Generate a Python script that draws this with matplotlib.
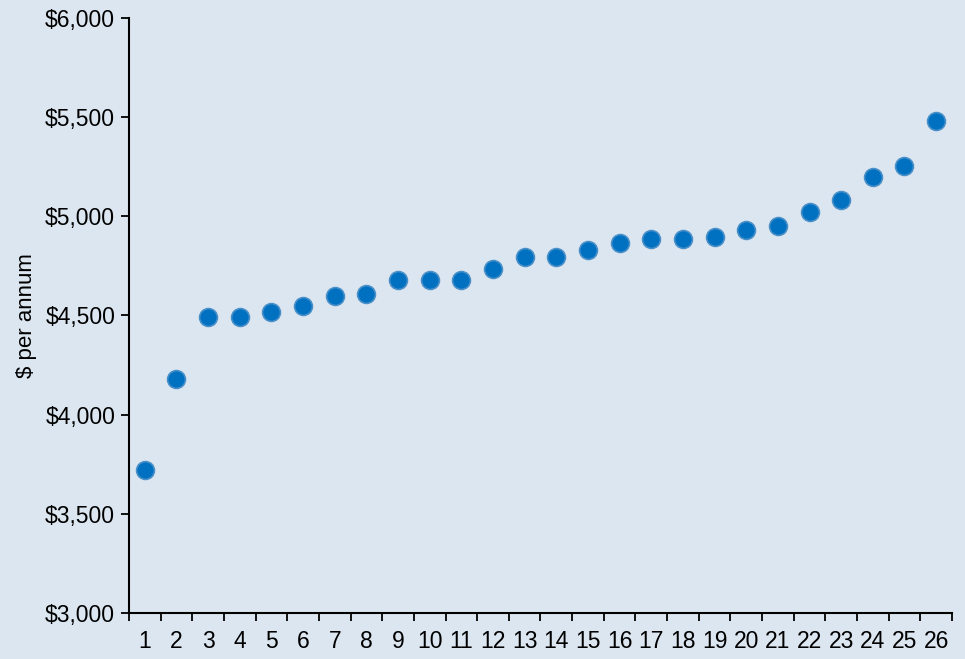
import numpy as np
import matplotlib.pyplot as plt
import matplotlib.ticker as mticker

plt.rcParams['font.family'] = ['Liberation Sans', 'DejaVu Sans']

categories = [str(i) for i in range(1, 27)]
values = [3720, 4180, 4490, 4490, 4520, 4550, 4600, 4610, 4680, 4680,
          4680, 4735, 4795, 4795, 4830, 4865, 4885, 4885, 4895, 4930,
          4950, 5020, 5080, 5200, 5255, 5480]

bg = '#dce6f0'
fig = plt.figure(figsize=(9.65, 6.59), dpi=100, facecolor=bg)
ax = fig.add_axes([0.1337, 0.0698, 0.8528, 0.9029], facecolor=bg)

x = np.arange(1, len(values) + 1)
ax.scatter(x, values, s=165, color='#0070c0', edgecolors='#4a90c8',
           linewidths=1.2, zorder=3, clip_on=False)

ax.set_xlim(0.5, len(values) + 0.5)
ax.set_ylim(3000, 6000)
ax.yaxis.set_major_locator(mticker.MultipleLocator(500))
ax.yaxis.set_major_formatter(mticker.FuncFormatter(lambda v, p: '${:,.0f}'.format(v)))

ax.set_xticks(x)
ax.set_xticklabels(categories)
ax.set_xticks(np.arange(0.5, len(values) + 1), minor=True)
ax.tick_params(axis='x', which='major', length=0, pad=12, labelsize=16.5)
ax.tick_params(axis='x', which='minor', length=6, width=1.3, direction='out')
ax.tick_params(axis='y', which='major', length=6, width=1.3, labelsize=16.5, pad=4)

for s in ['top', 'right']:
    ax.spines[s].set_visible(False)
for s in ['left', 'bottom']:
    ax.spines[s].set_linewidth(1.5)

ax.set_ylabel('$ per annum', fontsize=16, labelpad=6)

fig.savefig('out.png', dpi=100, facecolor=bg)
